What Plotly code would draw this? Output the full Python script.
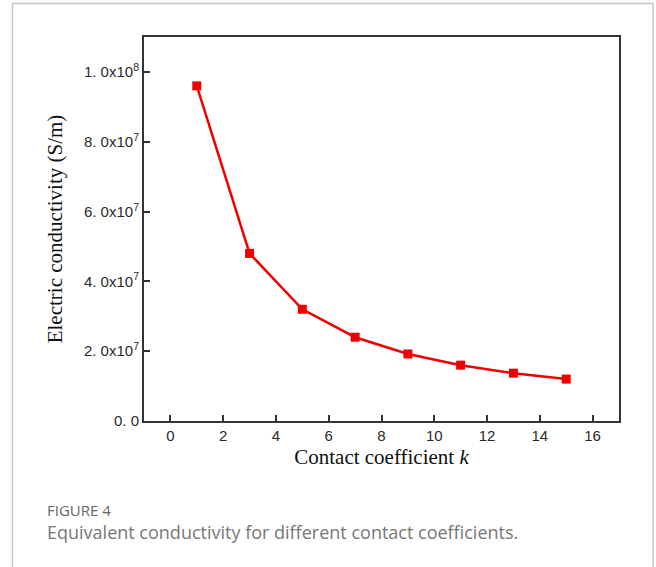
import plotly.graph_objects as go

# Contact coefficient k and the resulting equivalent conductivity (S/m)
contact_k = [1, 3, 5, 7, 9, 11, 13, 15]
conductivity = [96.0e6, 48.0e6, 32.0e6, 24.0e6, 19.2e6, 16.0e6, 13.7e6, 12.0e6]

x_ticks = [0, 2, 4, 6, 8, 10, 12, 14, 16]
y_ticks = [0, 2e7, 4e7, 6e7, 8e7, 1e8]
y_tick_text = ["0. 0", "2. 0x10<sup>7</sup>", "4. 0x10<sup>7</sup>",
               "6. 0x10<sup>7</sup>", "8. 0x10<sup>7</sup>", "1. 0x10<sup>8</sup>"]

RED = "#ee0000"
FRAME = "#333333"
SERIF = "Liberation Serif, Times New Roman, serif"
SANS = "Liberation Sans, Arial, sans-serif"

fig = go.Figure()
fig.add_trace(go.Scatter(
    x=contact_k, y=conductivity, mode="lines+markers",
    line=dict(color=RED, width=2.5),
    marker=dict(symbol="square", size=9, color=RED),
    showlegend=False,
))

axis_common = dict(
    showline=True, mirror=True, linecolor=FRAME, linewidth=2,
    ticks="inside", ticklen=6, tickwidth=1.5, tickcolor=FRAME,
    showgrid=False, zeroline=False,
    tickfont=dict(family=SANS, size=15, color="#2a2a2a"),
)

fig.update_xaxes(
    range=[-1, 17], tickvals=x_ticks,
    title=dict(text="Contact coefficient <i>k</i>",
               font=dict(family=SERIF, size=21, color="#111111"), standoff=6),
    **axis_common,
)
fig.update_yaxes(
    range=[0, 1.1e8], tickvals=y_ticks, ticktext=y_tick_text,
    title=dict(text="Electric conductivity (S/m)",
               font=dict(family=SERIF, size=21, color="#111111"), standoff=16),
    **axis_common,
)

# Card outline around the figure and its caption
fig.add_shape(type="rect", xref="paper", yref="paper",
              x0=-0.277, x1=1.0716, y0=-0.42, y1=1.087,
              line=dict(color="#c8c8c8", width=1.5), layer="below")

fig.add_annotation(text="FIGURE 4", xref="paper", yref="paper",
                   x=-0.2083, y=-0.232, xanchor="left", yanchor="middle",
                   showarrow=False,
                   font=dict(family="Open Sans, sans-serif", size=15, color="#666666"))
fig.add_annotation(text="Equivalent conductivity for different contact coefficients.",
                   xref="paper", yref="paper",
                   x=-0.2083, y=-0.288, xanchor="left", yanchor="middle",
                   showarrow=False,
                   font=dict(family="Open Sans, sans-serif", size=18, color="#777777"))

fig.update_layout(
    width=656, height=567,
    margin=dict(l=144, r=36.7, t=36.7, b=146.3),
    paper_bgcolor="white", plot_bgcolor="white",
)

fig.write_html("out.html")
